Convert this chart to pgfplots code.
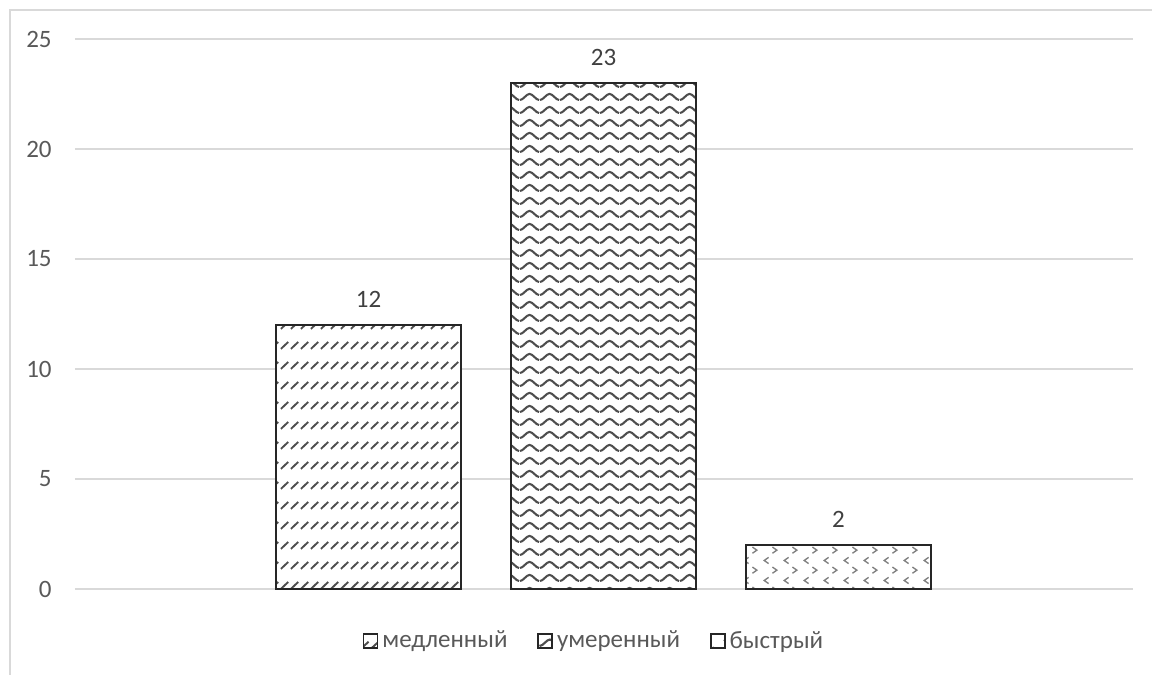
\documentclass[border=0pt]{standalone}
\usepackage{fontspec}
\setmainfont{Carlito}
\usepackage{pgfplots}
\pgfplotsset{compat=1.18}
\usetikzlibrary{patterns.meta}

\definecolor{txt}{HTML}{595959}
\definecolor{lbl}{HTML}{404040}
\definecolor{gridc}{HTML}{D9D9D9}
\definecolor{edge}{HTML}{262626}
\definecolor{hatch}{HTML}{4D4D4D}
\definecolor{dots}{HTML}{808080}

% short dashes in rows, rising to the right
\pgfdeclarepattern{
  name=dashdiag, type=uncolored,
  bottom left={\pgfpoint{0pt}{0pt}}, top right={\pgfpoint{5pt}{10pt}},
  tile size={\pgfpoint{5pt}{10pt}},
  code={
    \pgfsetlinewidth{1pt}
    \pgfpathmoveto{\pgfpoint{0.5pt}{3.2pt}}
    \pgfpathlineto{\pgfpoint{4.5pt}{6.8pt}}
    \pgfusepath{stroke}
  }}

% horizontal waves
\pgfdeclarepattern{
  name=wave, type=uncolored,
  bottom left={\pgfpoint{0pt}{0pt}}, top right={\pgfpoint{10pt}{6.5pt}},
  tile size={\pgfpoint{10pt}{6.5pt}},
  code={
    \pgfsetlinewidth{1.1pt}
    \pgfpathmoveto{\pgfpoint{0pt}{1.6pt}}
    \pgfpathcurveto{\pgfpoint{1.6pt}{1.6pt}}{\pgfpoint{3.4pt}{4.9pt}}{\pgfpoint{5pt}{4.9pt}}
    \pgfpathcurveto{\pgfpoint{6.6pt}{4.9pt}}{\pgfpoint{8.4pt}{1.6pt}}{\pgfpoint{10pt}{1.6pt}}
    \pgfusepath{stroke}
  }}

% small staggered chevrons
\pgfdeclarepattern{
  name=divot, type=uncolored,
  bottom left={\pgfpoint{0pt}{0pt}}, top right={\pgfpoint{10pt}{10pt}},
  tile size={\pgfpoint{10pt}{10pt}},
  code={
    \pgfsetlinewidth{0.7pt}
    \pgfpathmoveto{\pgfpoint{4.5pt}{9.1pt}}
    \pgfpathlineto{\pgfpoint{2.2pt}{7.5pt}}
    \pgfpathlineto{\pgfpoint{4.5pt}{5.9pt}}
    \pgfpathmoveto{\pgfpoint{6.5pt}{4.1pt}}
    \pgfpathlineto{\pgfpoint{8.8pt}{2.5pt}}
    \pgfpathlineto{\pgfpoint{6.5pt}{0.9pt}}
    \pgfusepath{stroke}
  }}

\pgfplotsset{
  legbox/.style={legend image code/.code={
      \draw[##1, line width=0.8pt] (0pt,-3.5pt) rectangle (7pt,3.5pt);}},
  barbase/.style={draw=edge, line width=1pt, fill=white, bar shift=0pt, legbox},
}

\begin{document}
\begin{tikzpicture}
\begin{axis}[
  at={(37.5pt,43pt)}, anchor=south west,
  scale only axis, width=529pt, height=275pt,
  ybar, bar width=92.5pt,
  xmin=-1.249, xmax=3.253, ymin=0, ymax=25,
  ytick={0,5,...,25}, xtick=\empty,
  ymajorgrids, grid style={gridc, line width=1pt},
  axis line style={draw=none},
  major tick length=0pt,
  tick label style={font=\fontsize{12.5}{15}\selectfont, text=txt},
  yticklabel style={anchor=east, inner sep=0pt, xshift=-11.5pt},
  /pgf/number format/assume math mode=true,
  nodes near coords,
  every node near coord/.append style={font=\fontsize{12.5}{15}\selectfont,
    text=lbl, inner sep=0pt, yshift=8.3pt},
  legend columns=3,
  legend style={draw=none, fill=none, at={(0.5,0)}, anchor=center,
    yshift=-26pt, xshift=-4.5pt, font=\fontsize{12.5}{15}\selectfont, text=txt,
    /tikz/every even column/.append style={column sep=13pt}},
]
\addplot[barbase, postaction={pattern=dashdiag, pattern color=hatch}]
  coordinates {(0,12)};
\addlegendentry{медленный}
\addplot[barbase, postaction={pattern=wave, pattern color=hatch}]
  coordinates {(1,23)};
\addlegendentry{умеренный}
\addplot[barbase, postaction={pattern=divot, pattern color=dots}]
  coordinates {(2,2)};
\addlegendentry{быстрый}
\end{axis}
\draw[gridc, line width=1pt] (5pt,-5pt) -- (5pt,332.5pt) -- (600pt,332.5pt);
\pgfresetboundingbox
\useasboundingbox (0,0) rectangle (576pt,337.5pt);
\end{tikzpicture}
\end{document}
